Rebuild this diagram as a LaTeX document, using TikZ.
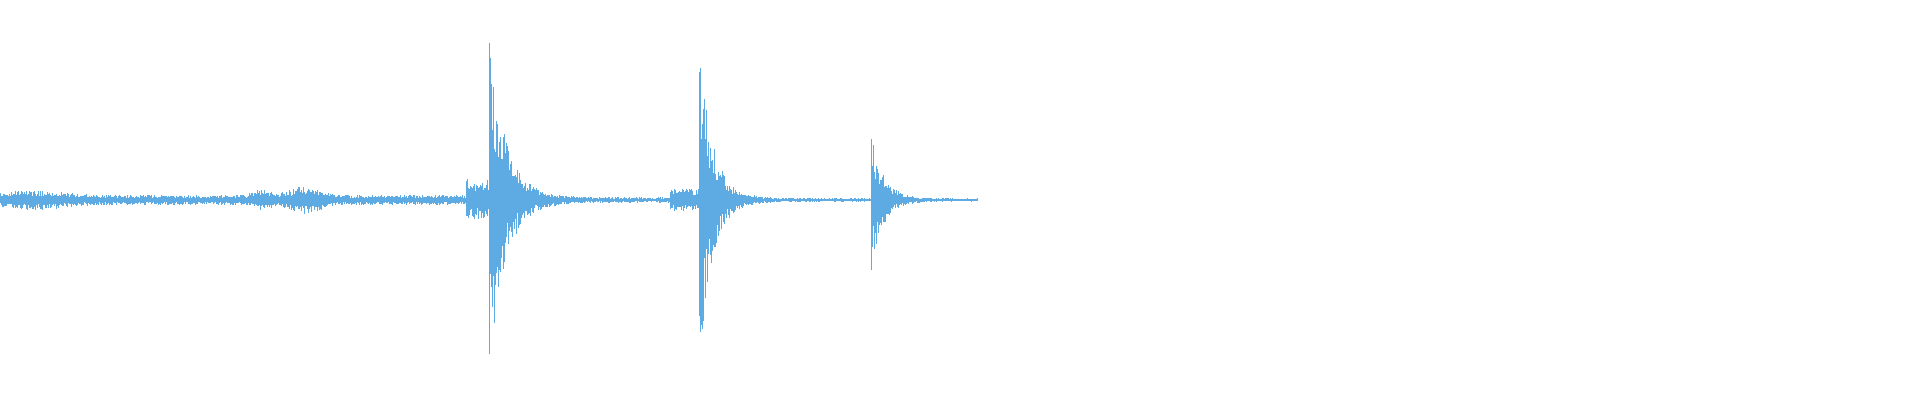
\documentclass[tikz,border=0pt]{standalone}
\definecolor{wave}{RGB}{94,170,226}
\begin{document}
\begin{tikzpicture}[x=1pt,y=1pt,yscale=-1]
\pgfmathsetseed{7}
%background, sets the size
\fill[white] (0,0) rectangle (1920,400);
%centre line
\draw[wave,line width=0.6pt] (0,200) -- (977,200);
%samples
\foreach \x in {0,1,...,977}{
  \pgfmathsetmacro{\base}{(\x<470)*(5+9*exp(-((\x-305)/20)^2)+5*exp(-((\x-35)/40)^2)+6*exp(-((\x-262)/12)^2))+(\x>=470)*(3*exp(-max(\x-470,0)/300)+1)}
  \pgfmathsetmacro{\spk}{(\x>=489)*166*exp(-max(\x-489,0)/16)+(\x>=466)*(\x<489)*16+(\x>=699)*163*exp(-max(\x-699,0)/13)+(\x>=670)*(\x<699)*9+(\x>=871)*68*exp(-max(\x-871,0)/12)}
  \pgfmathsetmacro{\env}{\base+\spk}
  \pgfmathsetmacro{\up}{\env*(0.4+0.6*rnd)}
  \pgfmathsetmacro{\dn}{\env*(0.4+0.6*rnd)}
  \draw[wave,line width=0.9pt] (\x,200-\up) -- (\x,200+\dn);
}
\end{tikzpicture}
\end{document}
